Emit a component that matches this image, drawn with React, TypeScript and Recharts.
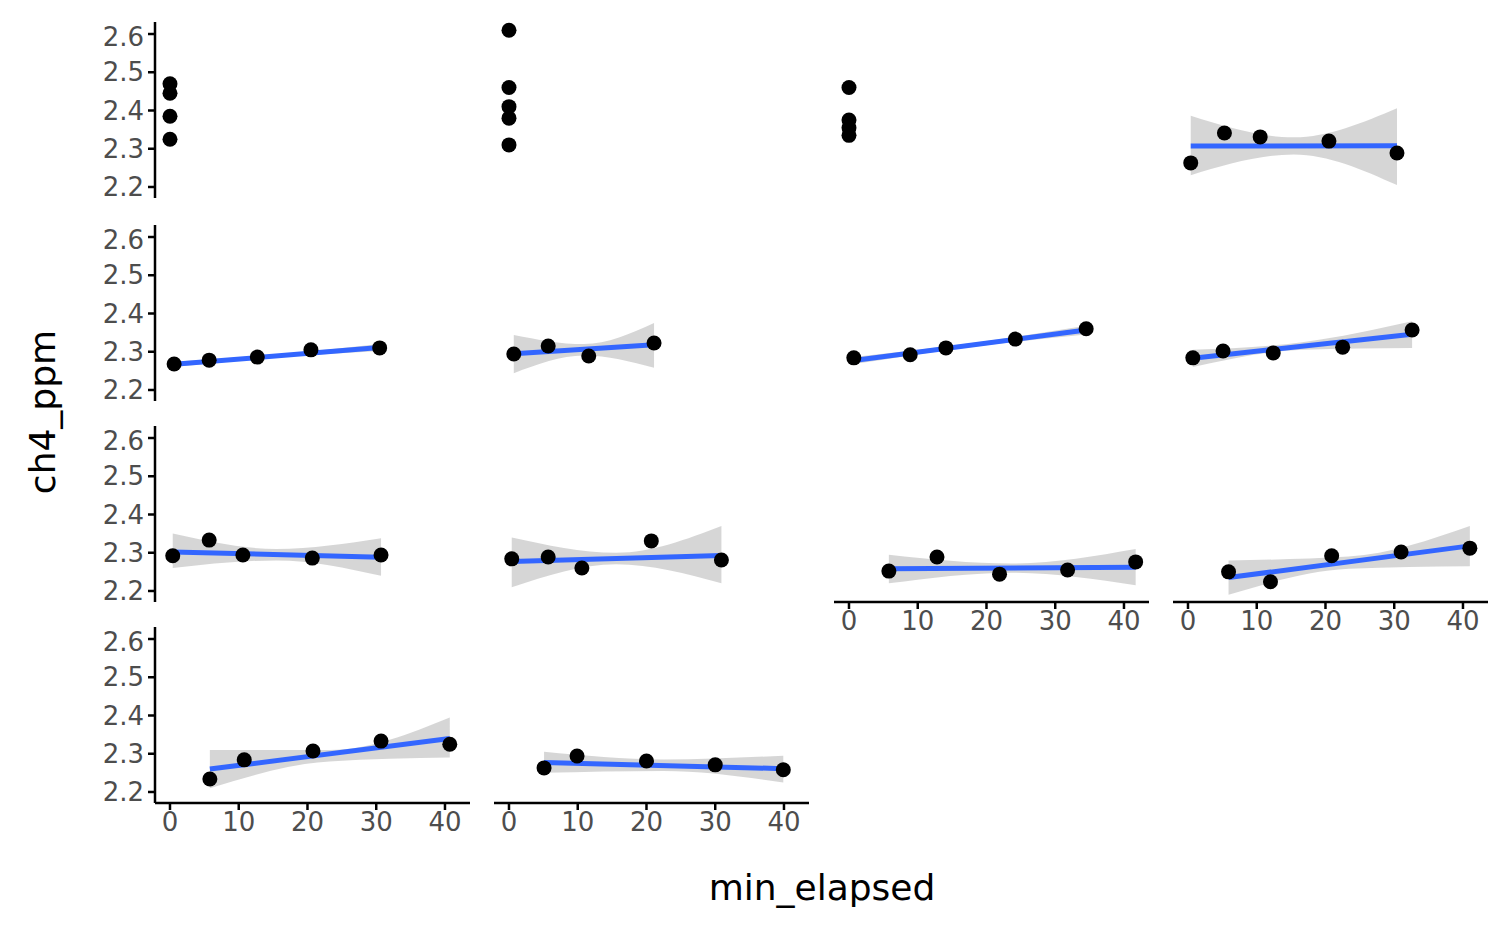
import React from "react";
import { ComposedChart, Scatter, Line, Area, XAxis, YAxis } from "recharts";

type Pt = { x: number; y: number };
type Band = { x: number; band: [number, number] };

const points: Pt[][] = [
  [{ x: 0, y: 2.47 }, { x: 0, y: 2.445 }, { x: 0, y: 2.385 }, { x: 0, y: 2.325 }],
  [{ x: 0, y: 2.61 }, { x: 0, y: 2.46 }, { x: 0, y: 2.41 }, { x: 0, y: 2.38 }, { x: 0, y: 2.31 }],
  [{ x: 0, y: 2.46 }, { x: 0, y: 2.375 }, { x: 0, y: 2.355 }, { x: 0, y: 2.335 }],
  [{ x: 0.4, y: 2.263 }, { x: 5.3, y: 2.341 }, { x: 10.5, y: 2.331 }, { x: 20.5, y: 2.32 }, { x: 30.4, y: 2.289 }],
  [{ x: 0.6, y: 2.268 }, { x: 5.7, y: 2.278 }, { x: 12.7, y: 2.286 }, { x: 20.5, y: 2.305 }, { x: 30.5, y: 2.31 }],
  [{ x: 0.7, y: 2.294 }, { x: 5.7, y: 2.315 }, { x: 11.6, y: 2.289 }, { x: 21.1, y: 2.323 }],
  [{ x: 0.7, y: 2.284 }, { x: 8.9, y: 2.292 }, { x: 14.1, y: 2.31 }, { x: 24.2, y: 2.333 }, { x: 34.5, y: 2.36 }],
  [{ x: 0.7, y: 2.284 }, { x: 5.1, y: 2.302 }, { x: 12.4, y: 2.297 }, { x: 22.5, y: 2.312 }, { x: 32.6, y: 2.357 }],
  [{ x: 0.4, y: 2.292 }, { x: 5.7, y: 2.333 }, { x: 10.6, y: 2.294 }, { x: 20.7, y: 2.286 }, { x: 30.7, y: 2.294 }],
  [{ x: 0.4, y: 2.284 }, { x: 5.7, y: 2.289 }, { x: 10.6, y: 2.26 }, { x: 20.7, y: 2.331 }, { x: 30.9, y: 2.281 }],
  [{ x: 5.8, y: 2.252 }, { x: 12.8, y: 2.289 }, { x: 21.9, y: 2.244 }, { x: 31.8, y: 2.255 }, { x: 41.7, y: 2.276 }],
  [{ x: 5.9, y: 2.25 }, { x: 12.0, y: 2.224 }, { x: 20.9, y: 2.292 }, { x: 31.0, y: 2.302 }, { x: 41.0, y: 2.312 }],
  [{ x: 5.8, y: 2.234 }, { x: 10.8, y: 2.284 }, { x: 20.8, y: 2.307 }, { x: 30.7, y: 2.333 }, { x: 40.7, y: 2.325 }],
  [{ x: 5.1, y: 2.263 }, { x: 9.9, y: 2.294 }, { x: 20, y: 2.281 }, { x: 30, y: 2.271 }, { x: 39.9, y: 2.258 }],
];

// fitted line endpoints per panel (null = no fit)
const fits: (Pt[] | null)[] = [
  null,
  null,
  null,
  [{ x: 0.4, y: 2.307 }, { x: 30.4, y: 2.308 }],
  [{ x: 0.6, y: 2.267 }, { x: 30.5, y: 2.311 }],
  [{ x: 0.7, y: 2.295 }, { x: 21.1, y: 2.318 }],
  [{ x: 0.7, y: 2.277 }, { x: 34.5, y: 2.357 }],
  [{ x: 0.7, y: 2.283 }, { x: 32.6, y: 2.346 }],
  [{ x: 0.4, y: 2.302 }, { x: 30.7, y: 2.288 }],
  [{ x: 0.4, y: 2.277 }, { x: 30.9, y: 2.293 }],
  [{ x: 5.8, y: 2.258 }, { x: 41.7, y: 2.262 }],
  [{ x: 5.9, y: 2.235 }, { x: 41.0, y: 2.318 }],
  [{ x: 5.8, y: 2.26 }, { x: 40.7, y: 2.34 }],
  [{ x: 5.1, y: 2.277 }, { x: 39.9, y: 2.261 }],
];

// confidence band (left, middle, right)
const bands: (Band[] | null)[] = [
  null,
  null,
  null,
  [{ x: 0.4, band: [2.231, 2.386] }, { x: 15.4, band: [2.285, 2.33] }, { x: 30.4, band: [2.205, 2.406] }],
  [{ x: 0.6, band: [2.26, 2.274] }, { x: 15.5, band: [2.285, 2.293] }, { x: 30.5, band: [2.302, 2.32] }],
  [{ x: 0.7, band: [2.244, 2.344] }, { x: 10.9, band: [2.29, 2.32] }, { x: 21.1, band: [2.258, 2.375] }],
  [{ x: 0.7, band: [2.268, 2.286] }, { x: 17.6, band: [2.312, 2.322] }, { x: 34.5, band: [2.345, 2.368] }],
  [{ x: 0.7, band: [2.26, 2.305] }, { x: 16.6, band: [2.305, 2.325] }, { x: 32.6, band: [2.31, 2.38] }],
  [{ x: 0.4, band: [2.26, 2.35] }, { x: 15.5, band: [2.28, 2.31] }, { x: 30.7, band: [2.24, 2.338] }],
  [{ x: 0.4, band: [2.21, 2.34] }, { x: 15.6, band: [2.27, 2.3] }, { x: 30.9, band: [2.22, 2.37] }],
  [{ x: 5.8, band: [2.22, 2.295] }, { x: 23.7, band: [2.248, 2.272] }, { x: 41.7, band: [2.215, 2.31] }],
  [{ x: 5.9, band: [2.19, 2.28] }, { x: 23.4, band: [2.258, 2.29] }, { x: 41.0, band: [2.265, 2.37] }],
  [{ x: 5.8, band: [2.21, 2.31] }, { x: 23.2, band: [2.28, 2.31] }, { x: 40.7, band: [2.29, 2.395] }],
  [{ x: 5.1, band: [2.25, 2.305] }, { x: 22.5, band: [2.255, 2.285] }, { x: 39.9, band: [2.225, 2.295] }],
];

const xTicks = [0, 10, 20, 30, 40];
const yTicks = [2.2, 2.3, 2.4, 2.5, 2.6];

const colLeft = [155, 494, 834, 1173];
const rowTop = [22, 225, 426, 627];
const PW = 315;
const PH = 176;
const AX = 80;
const AXH = 50;
const font = "DejaVu Sans";

const Dot = (p: any) => <circle cx={p.cx} cy={p.cy} r={7.5} fill="#000" />;

const Panel = ({ i }: { i: number }) => {
  const row = Math.floor(i / 4);
  const col = i % 4;
  const showY = col === 0;
  const showX = row === 3 || (row === 2 && col >= 2);
  const tickStyle = { fill: "#4d4d4d", fontSize: 26, fontFamily: font };
  return (
    <div style={{ position: "absolute", left: colLeft[col] - AX, top: rowTop[row] }}>
      <ComposedChart width={PW + AX} height={PH + AXH} margin={{ top: 0, right: 0, bottom: 0, left: 0 }}>
        <XAxis
          type="number"
          dataKey="x"
          domain={[-2.18, 43.64]}
          ticks={xTicks}
          height={AXH}
          allowDataOverflow
          axisLine={showX ? { stroke: "#000", strokeWidth: 2.5 } : false}
          tickLine={showX ? { stroke: "#000", strokeWidth: 2.5 } : false}
          tick={showX ? tickStyle : false}
          tickSize={7}
          tickMargin={3}
        />
        <YAxis
          type="number"
          domain={[2.1712, 2.6314]}
          ticks={yTicks}
          width={AX}
          allowDataOverflow
          axisLine={showY ? { stroke: "#000", strokeWidth: 2.5 } : false}
          tickLine={showY ? { stroke: "#000", strokeWidth: 2.5 } : false}
          tick={showY ? tickStyle : false}
          tickSize={7}
          tickMargin={4}
          tickFormatter={(v: number) => v.toFixed(1)}
        />
        <Scatter data={points[i]} dataKey="y" shape={Dot} isAnimationActive={false} />
        {bands[i] && (
          <Area
            data={bands[i]!}
            dataKey="band"
            type="monotone"
            stroke="none"
            fill="#999999"
            fillOpacity={0.4}
            isAnimationActive={false}
          />
        )}
        {fits[i] && (
          <Line
            data={fits[i]!}
            dataKey="y"
            stroke="#3366FF"
            strokeWidth={5}
            dot={false}
            isAnimationActive={false}
          />
        )}
      </ComposedChart>
    </div>
  );
};

export default function App() {
  return (
    <div style={{ position: "fixed", left: 0, top: 0, width: 1512, height: 934, background: "#fff", fontFamily: font }}>
      {points.map((_, i) => (
        <Panel key={i} i={i} />
      ))}
      <div
        style={{
          position: "absolute",
          left: 42,
          top: 412,
          transform: "translate(-50%, -50%) rotate(-90deg)",
          fontSize: 36,
          whiteSpace: "nowrap",
        }}
      >
        ch4_ppm
      </div>
      <div
        style={{
          position: "absolute",
          left: 822,
          top: 887,
          transform: "translate(-50%, -50%)",
          fontSize: 36,
          whiteSpace: "nowrap",
        }}
      >
        min_elapsed
      </div>
    </div>
  );
}
